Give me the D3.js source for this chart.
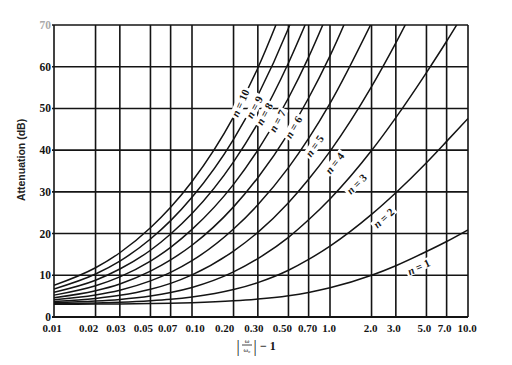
<!DOCTYPE html>
<html><head><meta charset="utf-8">
<script src="https://cdn.jsdelivr.net/npm/d3@7"></script>
<style>body{margin:0;background:#fff}svg{display:block}</style>
</head><body><svg id="c" width="512" height="365"></svg>
<script>
// ---- data ----
const xValues = [0.01,0.02,0.03,0.05,0.07,0.1,0.2,0.3,0.5,0.7,1.0,2.0,3.0,5.0,7.0,10.0];
const xTickLabels = ["0.01","0.02","0.03","0.05","0.07","0.10","0.20","0.30","0.50","0.70","1.0","2.0","3.0","5.0","7.0","10.0"];
const yTicks = [0,10,20,30,40,50,60,70];
const orders = [1,2,3,4,5,6,7,8,9,10];
const attenN1  = [3.05,3.10,3.14,3.23,3.31,3.44,3.87,4.30,5.12,5.90,6.99,10.0,12.3,15.7,18.1,20.9];
const attenN2  = [3.19,3.36,3.54,3.90,4.25,4.80,6.57,8.24,11.2,13.8,17.0,24.6,29.8,37.0,42.1,47.6];
const attenN3  = [3.41,3.81,4.22,5.04,5.86,7.07,10.8,14.0,19.1,23.3,28.3,39.9,47.8,58.6,66.1,74.5];
const attenN4  = [3.72,4.45,5.19,6.65,8.07,10.1,15.8,20.3,27.4,33.0,39.7,55.2,65.7,80.1];
const attenN5  = [4.13,5.28,6.43,8.66,10.7,13.5,21.1,26.9,35.8,42.8,51.2,70.5];
const attenN6  = [4.64,6.30,7.93,11.0,13.7,17.2,26.4,33.4,44.1,52.5,62.6,85.9];
const attenN7  = [5.24,7.49,9.62,13.4,16.7,21.0,31.8,40.0,52.5,62.3,74.1];
const attenN8  = [5.94,8.82,11.5,16.0,19.9,24.8,37.2,46.5,60.9,72.0];
const attenN9  = [6.72,10.3,13.4,18.7,23.1,28.7,42.6,53.1,69.2,81.8];
const attenN10 = [7.59,11.8,15.4,21.4,26.3,32.5,48.0,59.7,77.6];
const labelX     = [4.40,2.45,1.56,1.08,0.773,0.544,0.416,0.335,0.283,0.224];
const labelDb    = [12.0,23.7,31.9,36.9,41.0,45.5,47.0,48.7,50.3,51.3];
const labelAngle = [-25,-42,-45,-52,-55,-60,-62,-62,-62,-66];

const series = [attenN1,attenN2,attenN3,attenN4,attenN5,attenN6,attenN7,attenN8,attenN9,attenN10];

// ---- layout ----
const L = 54, R = 468, T = 25, B = 317;
const tickShift = [-2,-7,-4,-7,-3,3,-9,-4,-6,-1,-1,-1,-2,-2,-2,-1]; // label nudges, as printed
const svg = d3.select("#c");
const x = d3.scaleLog().domain([0.01,10]).range([L,R]);
const y = d3.scaleLinear().domain([0,70]).range([B,T]);
const ink = "#141414";

svg.append("defs").append("clipPath").attr("id","clip")
  .append("rect").attr("x",L).attr("y",T).attr("width",R-L).attr("height",B-T);

// grid
const grid = svg.append("g");
grid.selectAll("line.v").data(xValues).join("line")
  .attr("x1",d=>x(d)).attr("x2",d=>x(d)).attr("y1",T).attr("y2",B)
  .attr("stroke",ink).attr("stroke-width",1.6);
grid.selectAll("line.h").data(yTicks).join("line")
  .attr("x1",L-2).attr("x2",R).attr("y1",d=>y(d)).attr("y2",d=>y(d))
  .attr("stroke",ink).attr("stroke-width",d=>d===0?2.2:1.6);

// curves
const line = d3.line().x((d,i)=>x(xValues[i])).y(d=>y(d)).curve(d3.curveMonotoneX);
svg.append("g").attr("clip-path","url(#clip)")
  .selectAll("path").data(series).join("path")
  .attr("d",d=>line(d)).attr("fill","none").attr("stroke",ink).attr("stroke-width",1.5);

// curve labels
const lab = svg.append("g");
orders.forEach((n,i)=>{
  const g = lab.append("g")
    .attr("transform",`translate(${x(labelX[i])},${y(labelDb[i])}) rotate(${labelAngle[i]})`);
  const bg = g.append("rect").attr("fill","#fff");
  const t = g.append("text").attr("text-anchor","middle").attr("dy","0.35em")
    .attr("font-family","Liberation Serif, serif").attr("font-size",11).attr("font-weight","bold")
    .attr("fill",ink);
  t.append("tspan").attr("font-style","italic").text("n");
  t.append("tspan").text(" = " + n);
  const bb = t.node().getBBox();
  bg.attr("x",bb.x-2).attr("y",bb.y+1).attr("width",bb.width+4).attr("height",bb.height-2);
});

// x tick labels
svg.append("g").selectAll("text").data(xValues).join("text")
  .attr("x",(d,i)=>x(d)+tickShift[i]).attr("y",332).attr("text-anchor","middle")
  .attr("font-family","Liberation Serif, serif").attr("font-weight","bold").attr("font-size",11)
  .attr("fill",ink).text((d,i)=>xTickLabels[i]);

// y tick labels
svg.append("g").selectAll("text").data(yTicks).join("text")
  .attr("x",L-3).attr("y",d=>y(d)+4).attr("text-anchor","end")
  .attr("font-family","Liberation Serif, serif").attr("font-weight","bold").attr("font-size",11.5)
  .attr("fill",d=>d===70?"#aaa":ink).text(d=>d);

// y title
svg.append("text").attr("transform","translate(25,160) rotate(-90)").attr("text-anchor","middle")
  .attr("font-family","Liberation Sans, sans-serif").attr("font-size",10.5).attr("font-weight","bold")
  .attr("fill","#222").text("Attenuation (dB)");

// x title  |ω/ωc| − 1
const xt = svg.append("g").attr("font-family","Liberation Serif, serif").attr("fill",ink);
xt.append("text").attr("x",238).attr("y",352).attr("font-size",16).attr("text-anchor","middle").text("|");
xt.append("text").attr("x",247).attr("y",343).attr("font-size",7).attr("text-anchor","middle").text("ω");
xt.append("line").attr("x1",242).attr("x2",252).attr("y1",345).attr("y2",345).attr("stroke",ink).attr("stroke-width",0.8);
xt.append("text").attr("x",247).attr("y",352).attr("font-size",7).attr("text-anchor","middle")
  .text("ω").append("tspan").attr("font-size",5).attr("dy",1).text("c");
xt.append("text").attr("x",255).attr("y",352).attr("font-size",16).attr("text-anchor","middle").text("|");
xt.append("text").attr("x",260).attr("y",350).attr("font-size",12).attr("font-weight","bold").text("− 1");
</script>
</body></html>
